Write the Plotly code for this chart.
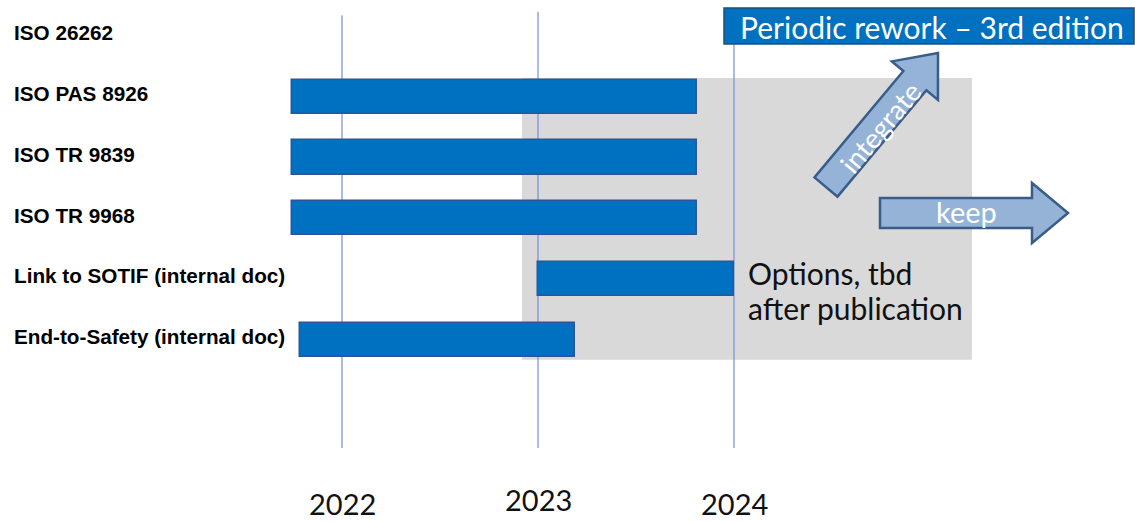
import plotly.graph_objects as go
import math

W, H = 1135, 522

# ---- data ----
rows = ["ISO 26262", "ISO PAS 8926", "ISO TR 9839", "ISO TR 9968",
        "Link to SOTIF (internal doc)", "End-to-Safety (internal doc)"]
bar_start = [None, 2021.745, 2021.745, 2021.745, 2023.0, 2021.786]
bar_end = [None, 2023.81, 2023.81, 2023.81, 2024.0, 2023.19]
years = [2022, 2023, 2024]
year_labels = ["2022", "2023", "2024"]
shade_x = [2022.918, 2025.214]
shade_y = [0.69, 5.33]

BLUE = "#0070c0"
BORDER = "#2f5597"

fig = go.Figure()

ys, xs, bases, labels = [], [], [], []
for i, (r, s, e) in enumerate(zip(rows, bar_start, bar_end)):
    if s is None:
        continue
    ys.append(i)
    xs.append(e - s)
    bases.append(s)
    labels.append(r)

fig.add_trace(go.Bar(
    y=ys, x=xs, base=bases, orientation="h", width=0.56,
    marker=dict(color=BLUE, line=dict(color=BORDER, width=1.5)),
    hovertext=labels, hoverinfo="text", showlegend=False,
))

# x range in years, y range in row units (pixel-calibrated)
px_per_year = 196.0
x0_year = 2022 - 342 / px_per_year
x1_year = 2022 + (W - 342) / px_per_year
row_px = 60.75
row0_px = 36.0
y_top = -row0_px / row_px
y_bot = (H - row0_px) / row_px

def px2x(px):
    return px / W

def py2y(py):
    return 1 - py / H

shapes = []
# gray area
shapes.append(dict(type="rect", xref="x", yref="y", x0=shade_x[0], x1=shade_x[1],
                   y0=shade_y[0], y1=shade_y[1], fillcolor="#d9d9d9",
                   line=dict(width=0), layer="below"))
# year lines
line_top = [-0.34, -0.40, 0.05]
for yr, t in zip(years, line_top):
    shapes.append(dict(type="line", xref="x", yref="y", x0=yr, x1=yr,
                       y0=t, y1=6.78, line=dict(color="#6f93cb", width=1.2),
                       layer="below"))

# title box
shapes.append(dict(type="rect", xref="paper", yref="paper",
                   x0=px2x(724), x1=px2x(1134), y0=py2y(44), y1=py2y(8),
                   fillcolor=BLUE, line=dict(color="#1f4e79", width=1.5),
                   layer="above"))

def arrow_path(tx, ty, hx, hy, shaft, head, head_len):
    dx, dy = hx - tx, hy - ty
    L = math.hypot(dx, dy)
    ux, uy = dx / L, dy / L
    nx, ny = -uy, ux
    bx, by = hx - ux * head_len, hy - uy * head_len
    pts = [
        (tx + nx * shaft / 2, ty + ny * shaft / 2),
        (bx + nx * shaft / 2, by + ny * shaft / 2),
        (bx + nx * head / 2, by + ny * head / 2),
        (hx, hy),
        (bx - nx * head / 2, by - ny * head / 2),
        (bx - nx * shaft / 2, by - ny * shaft / 2),
        (tx - nx * shaft / 2, ty - ny * shaft / 2),
    ]
    return "M " + " L ".join(f"{px2x(x):.5f},{py2y(y):.5f}" for x, y in pts) + " Z"

for (tx, ty, hx, hy) in [(826, 187, 938, 53), (880, 213, 1068, 213)]:
    shapes.append(dict(type="path", xref="paper", yref="paper",
                       path=arrow_path(tx, ty, hx, hy, 30, 60, 36),
                       fillcolor="#95b3d7", line=dict(color="#385d8a", width=2.5),
                       layer="above"))

annotations = []
for i, r in enumerate(rows):
    annotations.append(dict(text=f"<b>{r}</b>", xref="paper", yref="y",
                            x=px2x(12), y=i - 0.05, xanchor="left", yanchor="middle",
                            showarrow=False,
                            font=dict(family="Liberation Sans, Arial", size=20.7, color="#000")))

year_py = [503, 499, 503]
for yr, lab, py in zip(years, year_labels, year_py):
    annotations.append(dict(text=lab, xref="x", yref="paper", x=yr, y=py2y(py),
                            xanchor="center", yanchor="middle", showarrow=False,
                            font=dict(family="Lato", size=29, color="#111")))

annotations.append(dict(text="Periodic rework – 3rd edition", xref="paper", yref="paper",
                        x=px2x(932), y=py2y(27), xanchor="center", yanchor="middle",
                        showarrow=False, font=dict(family="Lato", size=30, color="white")))
for txt, py in [("Options, tbd", 273), ("after publication", 308)]:
    annotations.append(dict(text=txt, xref="paper", yref="paper",
                            x=px2x(746), y=py2y(py), xanchor="left", yanchor="middle",
                            align="left", showarrow=False,
                            font=dict(family="Lato", size=30, color="#111")))
annotations.append(dict(text="integrate", xref="paper", yref="paper",
                        x=px2x(880), y=py2y(127), xanchor="center", yanchor="middle",
                        textangle=-50, showarrow=False,
                        font=dict(family="Lato", size=27.5, color="white")))
annotations.append(dict(text="keep", xref="paper", yref="paper",
                        x=px2x(966), y=py2y(211), xanchor="center", yanchor="middle",
                        showarrow=False,
                        font=dict(family="Lato", size=29, color="white")))

fig.update_layout(
    width=W, height=H, margin=dict(l=0, r=0, t=0, b=0),
    paper_bgcolor="white", plot_bgcolor="white",
    xaxis=dict(range=[x0_year, x1_year], visible=False, fixedrange=True),
    yaxis=dict(range=[y_bot, y_top], visible=False, fixedrange=True),
    shapes=shapes, annotations=annotations, bargap=0,
)

fig.write_html("out.html", config={"displayModeBar": False},
               post_script="document.body.style.margin='0';document.body.style.overflow='hidden';")
